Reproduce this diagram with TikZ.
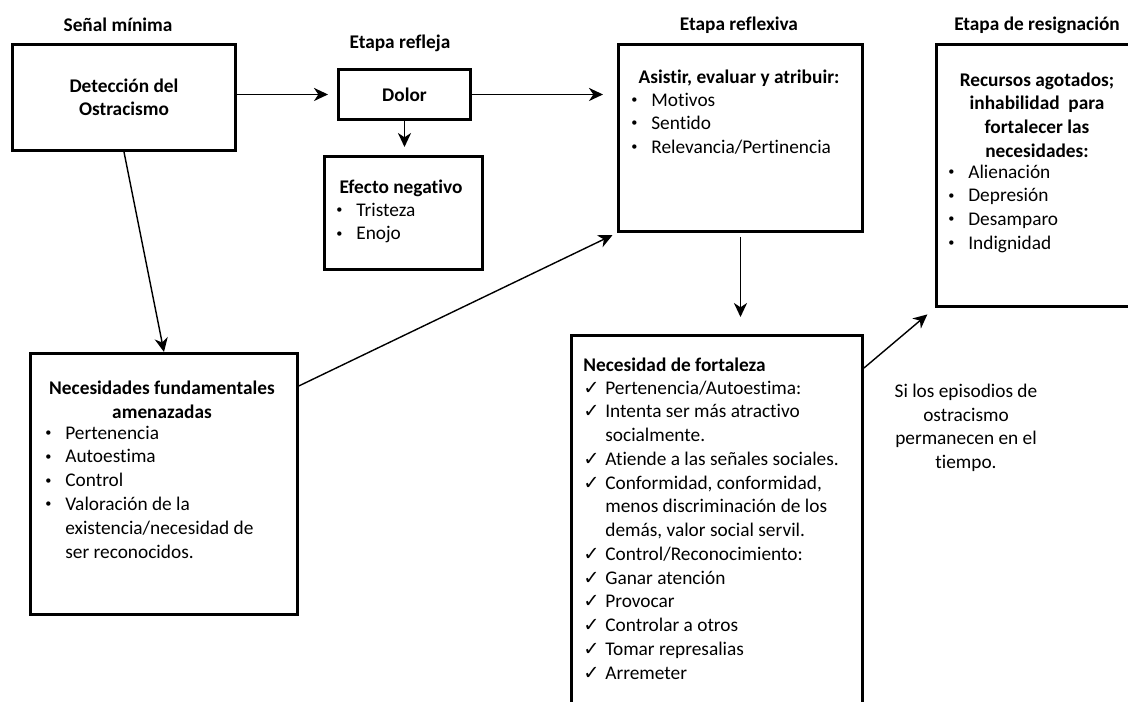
\documentclass[tikz,border=0pt]{standalone}
\usepackage{fontspec}
\setmainfont{Carlito}[Ligatures=NoCommon]
\newfontfamily\checkfont{DejaVu Sans}
\usetikzlibrary{arrows.meta,calc}

\newcommand{\bulmark}{\makebox[0.40cm][l]{\raisebox{0.3ex}{\fontsize{7}{7}\selectfont\textbullet}}}
\newcommand{\bulskip}{\hspace*{0.40cm}}
\newcommand{\chkmark}{\makebox[0.44cm][l]{{\checkfont\bfseries\char"2713}}}
\newcommand{\chkskip}{\hspace*{0.44cm}}

\begin{document}
\begin{tikzpicture}[
    box/.style={draw, line width=1.7pt, inner sep=0pt, anchor=north west},
    txt/.style={font=\fontsize{11}{13.4}\selectfont, inner sep=0pt},
    ttl/.style={font=\fontsize{11}{13.4}\selectfont\bfseries, inner sep=0pt},
    conn/.style={line width=0.8pt, -{Stealth[length=8pt, width=7.5pt, inset=2.5pt]}}
  ]
  \useasboundingbox (0,0) rectangle (22.56,14.04);
  \clip (0,0) rectangle (22.56,14.04);

  % boxes
  \node[box, minimum width=4.46cm, minimum height=2.12cm] (detect) at (0.22,13.18) {};
  \node[box, minimum width=2.64cm, minimum height=1.00cm] (dolor) at (6.74,12.68) {};
  \node[box, minimum width=3.16cm, minimum height=2.26cm] (efecto) at (6.46,10.94) {};
  \node[box, minimum width=4.88cm, minimum height=3.74cm] (reflex) at (12.34,13.18) {};
  \node[box, minimum width=4.30cm, minimum height=5.24cm] (resig) at (18.70,13.18) {};
  \node[box, minimum width=5.34cm, minimum height=5.22cm] (neces) at (0.58,7.00) {};
  \node[box, minimum width=5.82cm, minimum height=8.12cm] (fort) at (11.40,7.36) {};

  % stage labels
  \node[ttl] (lblsenal) at (2.36,13.54) {Señal mínima};
  \node[ttl] (lblrefleja) at (8.00,13.18) {Etapa refleja};
  \node[ttl] (lblreflexiva) at (14.78,13.54) {Etapa reflexiva};
  \node[ttl] (lblresig) at (20.74,13.54) {Etapa de resignación};

  % box texts
  \node[ttl, align=center] (detecttxt) at (detect) {Detección del\\Ostracismo};
  \node[ttl] (dolortxt) at (dolor) {Dolor};

  \node[ttl] (efectottl) at (8.02,10.28) {Efecto negativo};
  \foreach \txt [count=\i from 0] in {Tristeza, Enojo}
    \node[txt, anchor=mid west] (efecto\i) at (6.72,9.80-0.475*\i) {\bulmark\txt};

  \node[ttl] (reflexttl) at (14.78,12.48) {Asistir, evaluar y atribuir:};
  \foreach \txt [count=\i from 0] in {Motivos, Sentido, Relevancia/Pertinencia}
    \node[txt, anchor=mid west] (reflex\i) at (12.62,12.00-0.47*\i) {\bulmark\txt};

  \node[ttl, align=center] (resigttl) at (20.74,11.74)
    {Recursos agotados;\\inhabilidad\ \ para\\fortalecer las\\necesidades:};
  \foreach \txt [count=\i from 0] in {Alienación, Depresión, Desamparo, Indignidad}
    \node[txt, anchor=mid west] (resig\i) at (18.96,10.56-0.475*\i) {\bulmark\txt};

  \node[ttl, align=center] (necesttl) at (3.24,6.04) {Necesidades fundamentales\\amenazadas};
  \foreach \txt [count=\i from 0] in {\bulmark Pertenencia, \bulmark Autoestima, \bulmark Control,
      \bulmark Valoración de la, \bulskip existencia/necesidad de, \bulskip ser reconocidos.}
    \node[txt, anchor=mid west] (neces\i) at (0.90,5.34-0.476*\i) {\txt};

  \node[ttl, anchor=mid west] (fortttl) at (11.66,6.70) {Necesidad de fortaleza};
  \foreach \txt [count=\i from 0] in {\chkmark Pertenencia/Autoestima:,
      \chkmark Intenta ser más atractivo, \chkskip socialmente.,
      \chkmark Atiende a las señales sociales., {\chkmark Conformidad, conformidad,},
      \chkskip menos discriminación de los, {\chkskip demás, valor social servil.},
      \chkmark Control/Reconocimiento:, \chkmark Ganar atención, \chkmark Provocar,
      \chkmark Controlar a otros, \chkmark Tomar represalias, \chkmark Arremeter}
    \node[txt, anchor=mid west] (fort\i) at (11.66,6.24-0.475*\i) {\txt};

  \node[txt, align=center] (nota) at (19.32,5.48)
    {Si los episodios de\\ostracismo\\permanecen en el\\tiempo.};

  % connectors
  \draw[conn, shorten >=0.18cm] (dolor.west -| detect.east) -- (dolor.west);
  \draw[conn, shorten >=0.28cm] (dolor.east) -- (dolor.east -| reflex.west);
  \draw[conn, shorten >=0.16cm] (dolor.south) -- (dolor.south |- efecto.north);
  \draw[conn] (detect.south) -- (neces.north);
  \draw[conn, shorten >=0.1cm] (neces.36) -- (reflex.south west);
  \draw[conn, shorten <=0.08cm, shorten >=0.34cm] (reflex.south) -- (reflex.south |- fort.north);
  \draw[conn, shorten >=0.2cm] ($(fort.north east)+(0,-0.68)$) -- (resig.south west);
\end{tikzpicture}
\end{document}
